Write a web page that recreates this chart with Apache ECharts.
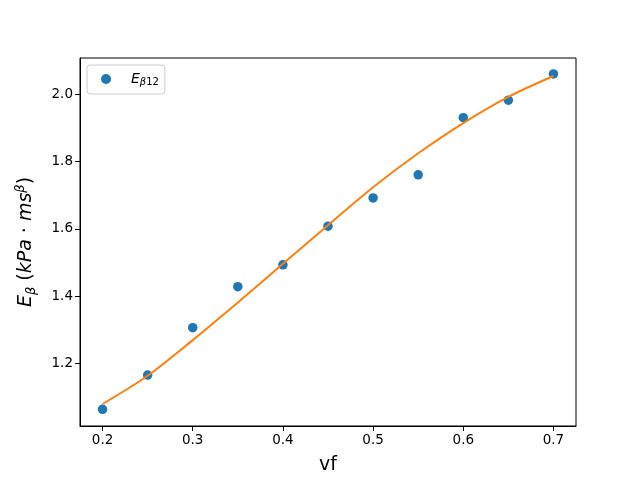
<!DOCTYPE html>
<html>
<head>
<meta charset="utf-8">
<script src="https://cdn.jsdelivr.net/npm/echarts@6/dist/echarts.min.js"></script>
<style>html,body{margin:0;padding:0;background:#fff;}#c{width:640px;height:480px;}</style>
</head>
<body>
<div id="c"></div>
<script>
// measured points
const vfPoints = [0.20, 0.25, 0.30, 0.35, 0.40, 0.45, 0.50, 0.55, 0.60, 0.65, 0.70];
const ePoints  = [1.063, 1.165, 1.306, 1.428, 1.493, 1.608, 1.692, 1.761, 1.931, 1.983, 2.061];
// fitted curve
const vfCurve = [0.20, 0.25, 0.30, 0.35, 0.40, 0.45, 0.50, 0.55, 0.60, 0.65, 0.70];
const eCurve  = [1.079, 1.163, 1.269, 1.381, 1.496, 1.611, 1.724, 1.825, 1.915, 1.993, 2.055];
// tick labels
const xTicks = [0.2, 0.3, 0.4, 0.5, 0.6, 0.7];
const yTicks = [1.2, 1.4, 1.6, 1.8, 2.0];

const F = 'DejaVu Sans';
const chart = echarts.init(document.getElementById('c'), null, {renderer: 'canvas'});
chart.setOption({
  animation: false,
  backgroundColor: '#fff',
  grid: {left: 80, right: 64, top: 58, bottom: 53, show: true, borderColor: '#000', borderWidth: 1, backgroundColor: 'transparent'},
  legend: {
    left: 87, top: 65,
    data: [{name: 'Eb12', icon: 'circle'}],
    itemWidth: 10, itemHeight: 10,
    padding: [7, 6, 7, 14],
    borderColor: '#cccccc', borderWidth: 1, borderRadius: 3,
    backgroundColor: '#fff',
    formatter: function () { return '{e|E}{s|β}{d|12}'; },
    textStyle: {
      padding: [0, 0, 0, 15],
      rich: {
        e: {fontFamily: F, fontStyle: 'italic', fontSize: 14, color: '#000', lineHeight: 16},
        s: {fontFamily: F, fontStyle: 'italic', fontSize: 10, color: '#000', lineHeight: 10, verticalAlign: 'bottom', padding: [4, 0, 0, 0]},
        d: {fontFamily: F, fontSize: 10, color: '#000', lineHeight: 10, verticalAlign: 'bottom', padding: [4, 0, 0, 0]}
      }
    }
  },
  xAxis: {
    type: 'value', min: 0.175, max: 0.725,
    name: 'vf', nameLocation: 'middle', nameGap: 30,
    nameTextStyle: {fontFamily: F, fontSize: 19, color: '#000'},
    splitLine: {show: false},
    axisLine: {show: true, onZero: false, lineStyle: {color: '#000', width: 1}},
    axisTick: {show: true, inside: false, length: 5, customValues: xTicks, lineStyle: {color: '#000'}},
    axisLabel: {customValues: xTicks, fontFamily: F, fontSize: 13.5, color: '#000', margin: 7,
      formatter: v => v.toFixed(1)}
  },
  yAxis: {
    type: 'value', min: 1.0135, max: 2.1085,
    name: '{e|E}{sub|β}{t| (}{v|kPa}{t| · }{v|ms}{sup|β}{t|)}',
    nameLocation: 'middle', nameRotate: 90, nameGap: 42,
    nameTextStyle: {
      rich: {
        e: {fontFamily: F, fontStyle: 'italic', fontSize: 19, color: '#000', lineHeight: 24},
        v: {fontFamily: F, fontStyle: 'italic', fontSize: 19, color: '#000', lineHeight: 24},
        t: {fontFamily: F, fontSize: 19, color: '#000', lineHeight: 24},
        sub: {fontFamily: F, fontStyle: 'italic', fontSize: 13, color: '#000', lineHeight: 13, verticalAlign: 'bottom', padding: [6, 0, 0, 0]},
        sup: {fontFamily: F, fontStyle: 'italic', fontSize: 13, color: '#000', lineHeight: 13, verticalAlign: 'top', padding: [0, 0, 6, 0]}
      }
    },
    splitLine: {show: false},
    axisLine: {show: true, onZero: false, lineStyle: {color: '#000', width: 1}},
    axisTick: {show: true, inside: false, length: 5, customValues: yTicks, lineStyle: {color: '#000'}},
    axisLabel: {customValues: yTicks, fontFamily: F, fontSize: 13.5, color: '#000', margin: 7,
      formatter: v => v.toFixed(1)}
  },
  series: [
    {
      name: 'fit', type: 'line', smooth: 0.3, showSymbol: false, symbol: 'none',
      data: vfCurve.map((x, i) => [x, eCurve[i]]),
      lineStyle: {color: '#ff7f0e', width: 2}, z: 3
    },
    {
      name: 'Eb12', type: 'scatter', symbol: 'circle', symbolSize: 9.5,
      data: vfPoints.map((x, i) => [x, ePoints[i]]),
      itemStyle: {color: '#1f77b4', opacity: 1}, z: 2
    }
  ]
});
</script>
</body>
</html>
